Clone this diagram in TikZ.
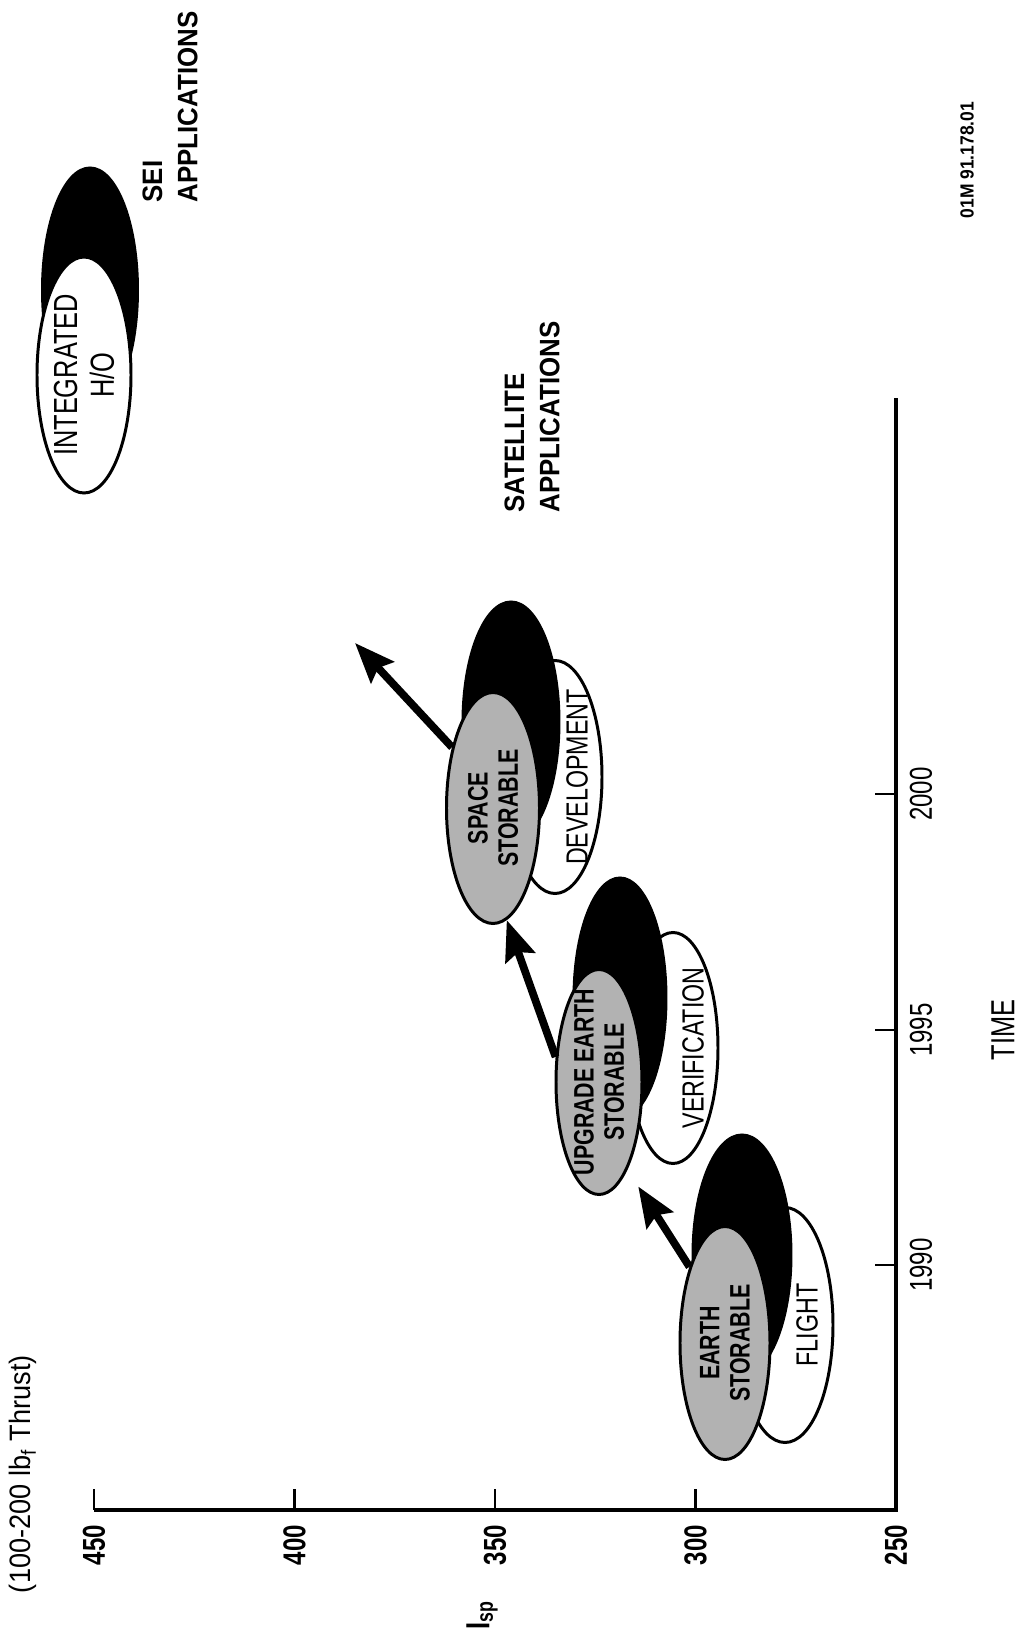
\documentclass[tikz,border=0pt]{standalone}
\usepackage{fontspec}
\setmainfont[FakeStretch=0.76]{Liberation Sans}
\newfontfamily\widefont[FakeStretch=0.92]{Liberation Sans}
\usetikzlibrary{shapes.geometric,arrows.meta}

\tikzset{
	blob/.style={ellipse, draw, line width=0.85pt, inner sep=0pt, rotate=90},
	dark/.style={blob, fill=black},
	light/.style={blob, fill=white},
	stipple/.style={blob, fill=black!30},
	tag/.style={rotate=90, align=center, inner sep=0pt, font=\fontsize{8.7}{10}\selectfont},
	boldtag/.style={rotate=90, align=center, inner sep=0pt, font=\fontsize{8}{8.6}\selectfont\bfseries},
	heading/.style={rotate=90, align=left, anchor=west, inner sep=0pt, font=\widefont\fontsize{8}{10}\selectfont\bfseries},
	axis/.style={line width=1.1pt},
	tick/.style={line width=0.6pt},
	bigarrow/.style={-{Stealth[length=4mm,width=3.1mm,inset=0.6mm]}, line width=2.2pt, shorten >=0.2cm},
}

\begin{document}
\begin{tikzpicture}
	\useasboundingbox (0,0) rectangle (10.2,16.44);

	%axes
	\draw[axis] (0.94,1.34) -- (8.96,1.34) -- (8.96,12.46);
	\foreach \v/\x in {450/0.94, 400/2.945, 350/4.95, 300/6.955}
		\draw[tick] (\x,1.34) -- (\x,1.55);
	\foreach \v/\x in {450/0.94, 400/2.945, 350/4.95, 300/6.955, 250/8.96}
		\node[boldtag, font=\fontsize{9}{9}\selectfont\bfseries] (isp\v) at (\x,0.99) {\v};
	\foreach \yr/\y in {1990/3.79, 1995/6.14, 2000/8.50}{
		\draw[tick] (8.96,\y) -- (8.75,\y);
		\node[tag, font=\fontsize{9}{9}\selectfont] (yr\yr) at (9.21,\y) {\yr};
	}

	%axis labels
	\node[boldtag, font=\fontsize{9.5}{9.5}\selectfont\bfseries] (isplabel) at (4.82,0.29) {I\textsubscript{sp}};
	\node[tag, font=\widefont\fontsize{8.4}{8.4}\selectfont] (thrust) at (0.23,1.70) {(100-200 lb\textsubscript{f} Thrust)};
	\node[tag, font=\fontsize{9.5}{9.5}\selectfont] (time) at (10.03,6.14) {TIME};

	%flight group
	\node[light, minimum width=2.35cm, minimum height=0.96cm] (flight) at (7.85,3.19) {};
	\node[dark, minimum width=2.40cm, minimum height=0.98cm] (blackA) at (7.42,3.89) {};
	\node[stipple, minimum width=2.33cm, minimum height=0.90cm] (earth) at (7.25,3.01) {};
	\node[boldtag] (earthtxt) at (earth) {EARTH\\STORABLE};
	\node[tag] (flighttxt) at ([xshift=2.2mm]flight.center) {FLIGHT};

	%verification group
	\node[light, minimum width=2.31cm, minimum height=0.90cm] (verif) at (6.73,5.96) {};
	\node[dark, minimum width=2.40cm, minimum height=0.92cm] (blackB) at (6.20,6.46) {};
	\node[stipple, minimum width=2.25cm, minimum height=0.86cm] (upgrade) at (5.99,5.62) {};
	\node[boldtag] (upgradetxt) at (upgrade) {UPGRADE EARTH\\STORABLE};
	\node[tag] (veriftxt) at ([xshift=2.0mm]verif.center) {VERIFICATION};

	%development group
	\node[light, minimum width=2.33cm, minimum height=0.94cm] (devel) at (5.55,8.67) {};
	\node[dark, minimum width=2.40cm, minimum height=0.96cm] (blackC) at (5.11,9.22) {};
	\node[stipple, minimum width=2.31cm, minimum height=0.93cm] (space) at (4.93,8.36) {};
	\node[boldtag] (spacetxt) at (space) {SPACE\\STORABLE};
	\node[tag] (develtxt) at ([xshift=2.2mm]devel.center) {DEVELOPMENT};

	%integrated group
	\node[dark, minimum width=2.44cm, minimum height=0.95cm] (blackD) at (0.90,13.54) {};
	\node[light, minimum width=2.36cm, minimum height=0.94cm] (integ) at (0.84,12.69) {};
	\node[tag, font=\fontsize{9.5}{10.5}\selectfont] (integtxt) at (integ) {INTEGRATED\\H/O};

	%arrows
	\coordinate (ahead) at (3.55,10.01);
	\draw[bigarrow] (earth.25) -- (upgrade.198);
	\draw[bigarrow, shorten >=0pt] (upgrade.60) -- (space.187);
	\draw[bigarrow, shorten >=0pt] (space.34) -- (ahead);

	%applications
	\node[heading] (satapp) at (5.32,11.31) {SATELLITE\\APPLICATIONS};
	\node[heading] (seiapp) at (1.70,14.41) {SEI\\APPLICATIONS};

	%figure id
	\node[rotate=90, inner sep=0pt, font=\widefont\fontsize{5.4}{6}\selectfont\bfseries] (figid) at (9.67,14.84) {01M 91.178.01};
\end{tikzpicture}
\end{document}
